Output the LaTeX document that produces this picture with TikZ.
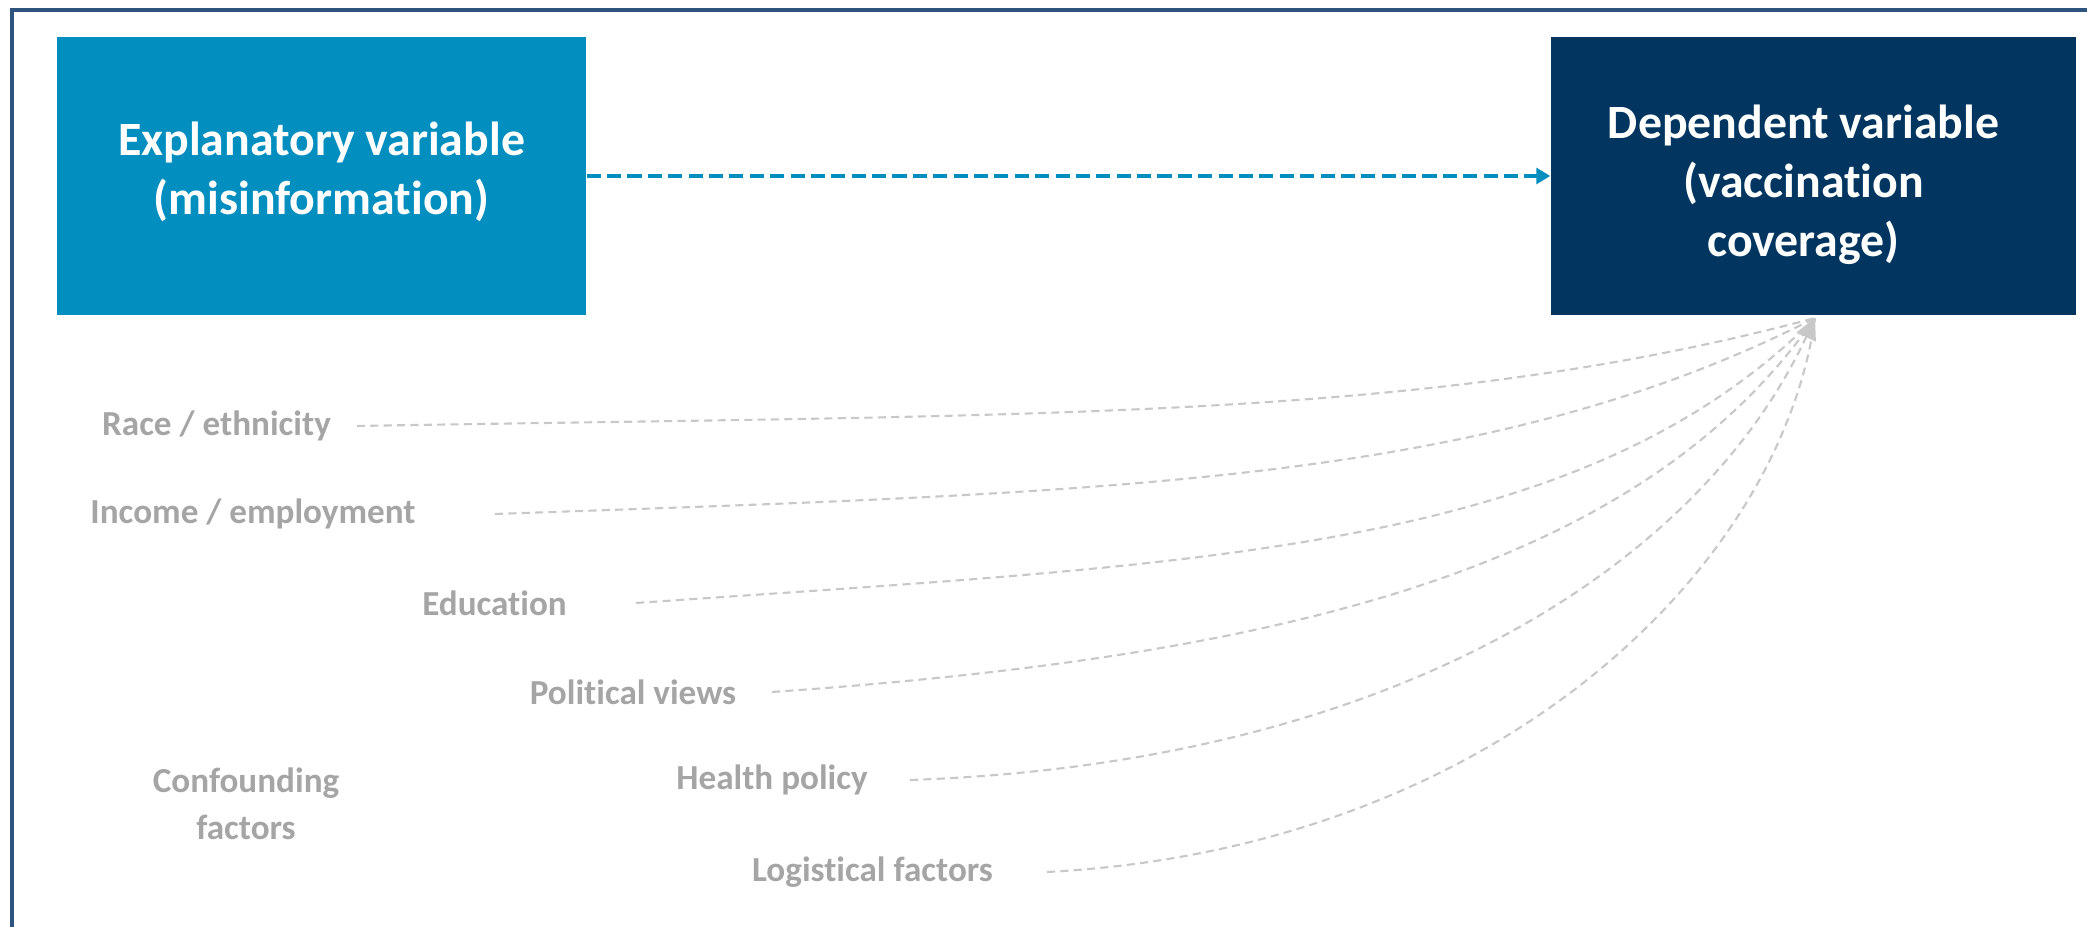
\documentclass[tikz,border=0pt]{standalone}
\usepackage{fontspec}
\setmainfont{Carlito}[Ligatures=NoCommon]
\usetikzlibrary{arrows.meta}

\definecolor{framecol}{RGB}{46,84,125}
\definecolor{explcol}{RGB}{2,142,190}
\definecolor{depcol}{RGB}{2,54,96}
\definecolor{conftext}{RGB}{165,165,165}
\definecolor{confline}{RGB}{200,200,200}

\tikzset{
    varbox/.style={rectangle, minimum width=#1, minimum height=2.78cm, inner sep=0pt},
    vartext/.style={text=white, align=center, font=\fontsize{13.6}{16.8}\selectfont\bfseries},
    conflabel/.style={text=conftext, align=center, font=\fontsize{10}{13.4}\selectfont\bfseries},
    confedge/.style={draw=confline, line width=0.6pt, dash pattern=on 2.3pt off 1.5pt,
        out looseness=1.2, in looseness=0.7},
    tipped/.style={-{Triangle[length=6pt, width=6pt]}},
    notip/.style={}
}

\begin{document}
\begin{tikzpicture}
            \useasboundingbox (0,0) rectangle (20.87,9.27);
            \draw[framecol, line width=0.95pt] (0.12,-0.1) -- (0.12,9.17) -- (20.97,9.17);

            \node[varbox=5.29cm, fill=explcol] (misinfo) at (3.215,7.51) {};
            \node[varbox=5.25cm, fill=depcol] (coverage) at (18.135,7.51) {};
            \node[vartext] (misinfo-txt) at ([yshift=0.04cm]misinfo.center) {Explanatory variable\\(misinformation)};
            \node[vartext] (coverage-txt) at ([xshift=-0.1cm, yshift=-0.09cm]coverage.center) {Dependent variable\\(vaccination\\coverage)};
            \draw[explcol, line width=1.3pt, dash pattern=on 4pt off 1.8pt,
                -{Triangle[length=4pt, width=4.5pt]}] (misinfo) -- (coverage);

            \coordinate (hub) at (18.15,6.09); % all confounders meet here
            \node[conflabel] (confounding) at (2.46,1.235) {Confounding\\factors};

            \foreach \n/\txt/\lx/\sx/\y/\o/\i/\t in {%
                race/{Race / ethnicity}/2.165/3.57/5.01/1/195/notip,
                income/{Income / employment}/2.53/4.95/4.13/2/207/notip,
                educ/Education/4.945/6.36/3.24/4/225/notip,
                politics/Political views/6.33/7.72/2.35/4/235/notip,
                health/Health policy/7.72/9.10/1.47/2/245/tipped,
                logistics/Logistical factors/8.725/10.47/0.55/3/262/notip%
                }{
                \node[conflabel] (\n) at (\lx,\y) {\txt};
                \coordinate (\n-start) at (\sx,\y);
                \draw[confedge, \t] (\n-start) to[out=\o, in=\i] (hub);
            }
        \end{tikzpicture}
\end{document}
